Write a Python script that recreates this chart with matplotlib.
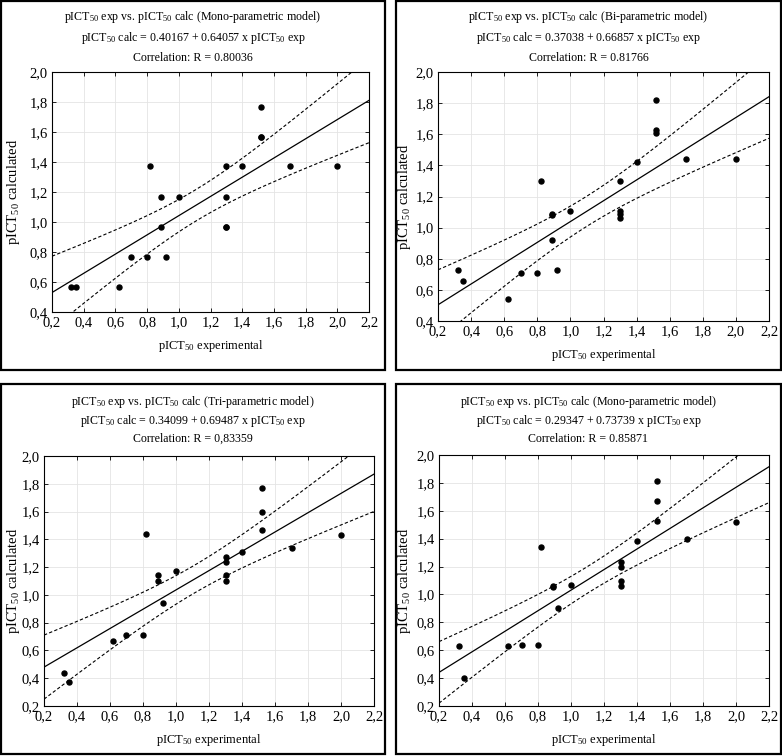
import matplotlib
matplotlib.use("Agg")
import matplotlib.pyplot as plt
from matplotlib.patches import Rectangle
from matplotlib.ticker import FuncFormatter, MultipleLocator
import numpy as np

plt.rcParams["font.family"] = ["Liberation Serif", "DejaVu Serif"]
plt.rcParams["mathtext.fontset"] = "custom"
plt.rcParams["mathtext.rm"] = "Liberation Serif"
plt.rcParams["mathtext.it"] = "Liberation Serif:italic"

# ── data ──────────────────────────────────────────────────────────────────────
mono1_exp = [0.32, 0.35, 0.62, 0.70, 0.80, 0.82, 0.89, 0.89, 0.92, 1.00,
             1.30, 1.30, 1.30, 1.30, 1.40, 1.52, 1.52, 1.52, 1.70, 2.00]
mono1_calc = [0.57, 0.57, 0.57, 0.77, 0.77, 1.37, 1.17, 0.97, 0.77, 1.17,
              1.37, 1.17, 0.97, 0.97, 1.37, 1.77, 1.57, 1.57, 1.37, 1.37]

bi_exp = [0.32, 0.35, 0.62, 0.70, 0.80, 0.82, 0.89, 0.89, 0.89, 0.92, 1.00,
          1.30, 1.30, 1.30, 1.30, 1.40, 1.52, 1.52, 1.52, 1.70, 2.00]
bi_calc = [0.73, 0.66, 0.54, 0.71, 0.71, 1.30, 1.09, 1.08, 0.92, 0.73, 1.11,
           1.30, 1.11, 1.09, 1.06, 1.42, 1.82, 1.63, 1.61, 1.44, 1.44]

tri_exp = [0.32, 0.35, 0.62, 0.70, 0.80, 0.82, 0.89, 0.89, 0.92, 1.00,
           1.30, 1.30, 1.30, 1.30, 1.40, 1.52, 1.52, 1.52, 1.70, 2.00]
tri_calc = [0.44, 0.37, 0.67, 0.71, 0.71, 1.44, 1.14, 1.10, 0.94, 1.17,
            1.27, 1.24, 1.14, 1.10, 1.31, 1.77, 1.60, 1.47, 1.34, 1.43]

mono2_exp = [0.32, 0.35, 0.62, 0.70, 0.80, 0.82, 0.89, 0.89, 0.92, 1.00,
             1.30, 1.30, 1.30, 1.30, 1.40, 1.52, 1.52, 1.52, 1.70, 2.00]
mono2_calc = [0.63, 0.40, 0.63, 0.64, 0.64, 1.34, 1.06, 1.05, 0.90, 1.07,
              1.23, 1.20, 1.10, 1.06, 1.38, 1.81, 1.67, 1.53, 1.40, 1.52]

model_names = ["Mono-parametric model", "Bi-parametric model",
               "Tri-parametric model", "Mono-parametric model"]
intercepts = ["0.40167", "0.37038", "0.34099", "0.29347"]
slopes = ["0.64057", "0.66857", "0.69487", "0.73739"]
r_labels = ["0.80036", "0.81766", "0,83359", "0.85871"]
y_bottoms = [0.4, 0.4, 0.2, 0.2]

T95 = 2.10  # two-sided 95% t quantile, ~19 dof

W, H = 782, 756

# box (x0, y0, x1, y1) and axes (x0, y0, x1, y1) in pixels, y from top
boxes = [(1, 1, 385, 370), (396, 1, 781, 370),
         (1, 384, 385, 754), (396, 384, 781, 754)]
axes_px = [(52, 72, 369, 312), (438, 72, 769, 321),
           (44, 456, 374, 706), (439, 455, 769, 706)]
title_y = [(17, 38, 58), (17, 38, 58), (402, 421, 439), (402, 421, 439)]
ylabel_x = [22, 413, 22, 413]  # right edge of the rotated y label

fig = plt.figure(figsize=(W / 100, H / 100), dpi=100, facecolor="white")

comma = FuncFormatter(lambda v, p: f"{v:.1f}".replace(".", ","))
P = r"pICT$_{50}$"

panels = [(mono1_exp, mono1_calc), (bi_exp, bi_calc),
          (tri_exp, tri_calc), (mono2_exp, mono2_calc)]

for i, (xs, ys) in enumerate(panels):
    bx0, by0, bx1, by1 = boxes[i]
    fig.patches.append(Rectangle((bx0 / W, 1 - by1 / H), (bx1 - bx0) / W,
                                 (by1 - by0) / H, transform=fig.transFigure,
                                 fill=False, edgecolor="black", linewidth=1.6))
    cx = (bx0 + bx1) / 2 / W
    t1, t2, t3 = title_y[i]
    fig.text(cx, 1 - t1 / H, f"{P} exp vs. {P} calc ({model_names[i]})",
             ha="center", va="center", fontsize=8.6)
    fig.text(cx, 1 - t2 / H, f"{P} calc = {intercepts[i]} + {slopes[i]} x {P} exp",
             ha="center", va="center", fontsize=8.6)
    fig.text(cx, 1 - t3 / H, f"Correlation: R = {r_labels[i]}",
             ha="center", va="center", fontsize=8.6)

    ax0, ay0, ax1, ay1 = axes_px[i]
    ax = fig.add_axes([ax0 / W, 1 - ay1 / H, (ax1 - ax0) / W, (ay1 - ay0) / H])

    x = np.array(xs)
    y = np.array(ys)
    a, b = float(intercepts[i]), float(slopes[i])
    n = len(x)
    resid = y - (a + b * x)
    s = np.sqrt(np.sum(resid ** 2) / (n - 2))
    sxx = np.sum((x - x.mean()) ** 2)
    xx = np.linspace(0.2, 2.2, 200)
    fit = a + b * xx
    half = T95 * s * np.sqrt(1 / n + (xx - x.mean()) ** 2 / sxx)

    ax.plot(xx, fit, color="black", linewidth=0.9)
    ax.plot(xx, fit + half, color="black", linewidth=0.8, linestyle=(0, (3, 2)))
    ax.plot(xx, fit - half, color="black", linewidth=0.8, linestyle=(0, (3, 2)))
    ax.plot(x, y, "o", color="black", markersize=3.6)

    ax.set_xlim(0.2, 2.2)
    ax.set_ylim(y_bottoms[i], 2.0)
    ax.xaxis.set_major_locator(MultipleLocator(0.2))
    ax.yaxis.set_major_locator(MultipleLocator(0.2))
    ax.xaxis.set_major_formatter(comma)
    ax.yaxis.set_major_formatter(comma)
    ax.grid(True, color="#e4e4e4", linewidth=0.6)
    ax.set_axisbelow(True)
    ax.tick_params(direction="in", length=3, width=0.6, top=True, right=True,
                   labelsize=10.5, pad=3)
    for sp in ax.spines.values():
        sp.set_linewidth(0.8)
    ax.set_xlabel(f"{P} experimental", fontsize=9, labelpad=6)
    ax.set_ylabel(f"{P} calculated", fontsize=10.5)
    ax.yaxis.set_label_coords((ylabel_x[i] - ax0) / (ax1 - ax0), 0.5)

fig.savefig("out.png", dpi=100, facecolor="white")
